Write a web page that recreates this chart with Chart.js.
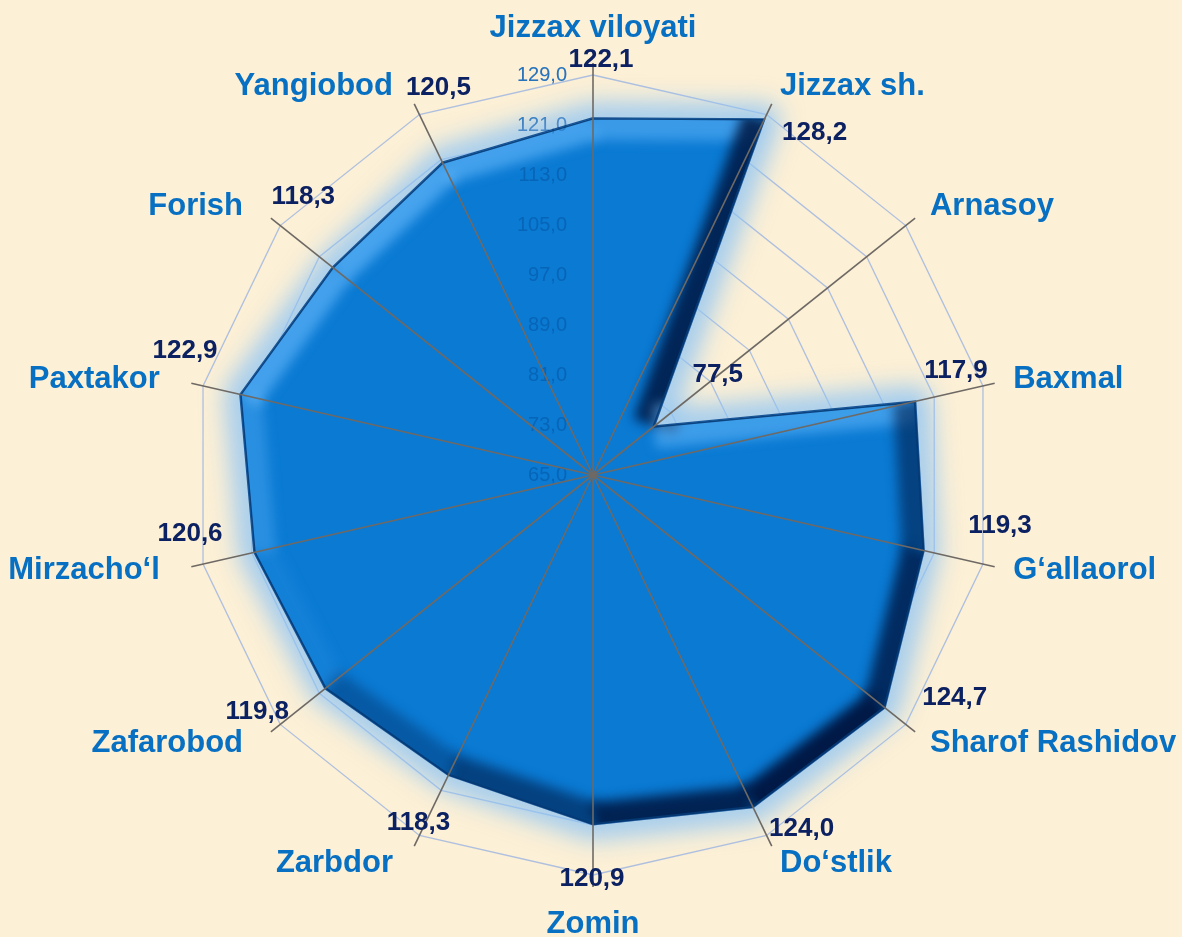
<!DOCTYPE html>
<html lang="uz">
<head>
<meta charset="UTF-8">
<title>Jizzax viloyati</title>
<script src="https://cdn.jsdelivr.net/npm/chart.js"></script>
<style>
  html, body { margin: 0; padding: 0; background: #fcf0d6; }
  .wrap { width: 1182px; height: 937px; position: relative; }
</style>
</head>
<body>
<div class="wrap"><canvas id="radar"></canvas></div>
<script>
// data
const districts = ['Jizzax viloyati', 'Jizzax sh.', 'Arnasoy', 'Baxmal', 'G‘allaorol', 'Sharof Rashidov', 'Do‘stlik',
  'Zomin', 'Zarbdor', 'Zafarobod', 'Mirzacho‘l', 'Paxtakor', 'Forish', 'Yangiobod'];
const values = [122.1, 128.2, 77.5, 117.9, 119.3, 124.7, 124.0, 120.9, 118.3, 119.8, 120.6, 122.9, 118.3, 120.5];
const scaleMin = 65;
const scaleMax = 129;
const scaleStep = 8;

// where each value label sits, nudged from the outer ring corner (layout only)
const valueNudge = [[8, -15], [48, 18], [-188, 149], [-27, -15], [17, -38], [49, -27], [35, -7],
  [-1, 4], [-1, -13], [-23, -13], [-13, -30], [-18, -35], [23, -29], [19, -27]];

const FONT = 'Arial, "Liberation Sans", sans-serif';
const fmt = v => v.toFixed(1).replace('.', ',');

function outline(ctx, pts) {
  ctx.beginPath();
  pts.forEach((p, i) => i ? ctx.lineTo(p.x, p.y) : ctx.moveTo(p.x, p.y));
  ctx.closePath();
}

function drawTicks(ctx, r, color) {
  ctx.save();
  ctx.font = '20px ' + FONT;
  ctx.fillStyle = color;
  ctx.textAlign = 'right';
  ctx.textBaseline = 'middle';
  r.ticks.forEach(t => {
    const y = r.yCenter - r.getDistanceFromCenterForValue(t.value);
    ctx.fillText(fmt(t.value), r.xCenter - 26, y);
  });
  ctx.restore();
}

const decor = {
  id: 'decor',
  beforeDatasetsDraw(chart) {
    const ctx = chart.ctx, r = chart.scales.r;
    const pts = chart.getDatasetMeta(0).data;
    drawTicks(ctx, r, '#3a8ed8');
    // soft halo round the shape
    ctx.save();
    ctx.filter = 'blur(12px)';
    outline(ctx, pts);
    ctx.lineWidth = 30;
    ctx.lineJoin = 'round';
    ctx.strokeStyle = 'rgba(140,195,245,0.85)';
    ctx.stroke();
    ctx.restore();
  },
  afterDatasetsDraw(chart) {
    const ctx = chart.ctx, r = chart.scales.r;
    const pts = chart.getDatasetMeta(0).data;
    const n = pts.length;

    // bevel: light on edges facing up-left, dark on the others
    ctx.save();
    outline(ctx, pts);
    ctx.clip();
    ctx.filter = 'blur(6px)';
    ctx.lineWidth = 44;
    for (let i = 0; i < n; i++) {
      const a = pts[i], b = pts[(i + 1) % n];
      const dx = b.x - a.x, dy = b.y - a.y;
      const len = Math.hypot(dx, dy) || 1;
      const s = (dy / len) * -0.6 + (-dx / len) * -0.8;
      ctx.strokeStyle = s > 0
        ? 'rgba(110,190,255,' + (0.6 * s).toFixed(2) + ')'
        : 'rgba(0,25,70,' + Math.min(1, 1.05 * -s).toFixed(2) + ')';
      ctx.beginPath();
      ctx.moveTo(a.x, a.y);
      ctx.lineTo(b.x, b.y);
      ctx.stroke();
    }
    ctx.filter = 'none';
    outline(ctx, pts);
    ctx.lineWidth = 3;
    ctx.strokeStyle = 'rgba(5,60,120,0.9)';
    ctx.stroke();
    ctx.restore();

    drawTicks(ctx, r, 'rgba(0,45,110,0.28)');

    // spokes over the shape
    ctx.save();
    ctx.strokeStyle = '#6e6964';
    ctx.lineWidth = 1.6;
    for (let i = 0; i < n; i++) {
      const p = r.getPointPosition(i, r.drawingArea + 12);
      ctx.beginPath();
      ctx.moveTo(r.xCenter, r.yCenter);
      ctx.lineTo(p.x, p.y);
      ctx.stroke();
    }
    ctx.fillStyle = '#6e6964';
    ctx.beginPath();
    ctx.arc(r.xCenter, r.yCenter, 3, 0, Math.PI * 2);
    ctx.fill();
    ctx.restore();

    // value labels
    ctx.save();
    ctx.font = 'bold 26px ' + FONT;
    ctx.fillStyle = '#0c2161';
    ctx.textAlign = 'center';
    ctx.textBaseline = 'middle';
    values.forEach((v, i) => {
      const p = r.getPointPosition(i, r.drawingArea);
      ctx.fillText(fmt(v), p.x + valueNudge[i][0], p.y + valueNudge[i][1]);
    });
    ctx.restore();

    // district names
    ctx.save();
    ctx.font = 'bold 31px ' + FONT;
    ctx.fillStyle = '#0870c2';
    districts.forEach((name, i) => {
      const p = r.getPointPosition(i, r.drawingArea + 31);
      let x = p.x, y = p.y;
      const off = p.x - r.xCenter;
      if (Math.abs(off) < 5) {
        ctx.textAlign = 'center';
        if (p.y < r.yCenter) { ctx.textBaseline = 'alphabetic'; y -= 7; }
        else { ctx.textBaseline = 'top'; y += 3; }
      } else if (off > 0) {
        ctx.textAlign = 'left';
        ctx.textBaseline = 'middle';
      } else {
        ctx.textAlign = 'right';
        ctx.textBaseline = 'middle';
        x -= 13;
      }
      ctx.fillText(name, x, y);
    });
    ctx.restore();
  }
};

new Chart(document.getElementById('radar'), {
  type: 'radar',
  data: {
    labels: districts,
    datasets: [{
      data: values,
      backgroundColor: '#0a7ad3',
      borderColor: 'rgba(8,70,140,0.9)',
      borderWidth: 2,
      pointRadius: 0,
      fill: true,
      tension: 0
    }]
  },
  options: {
    responsive: true,
    maintainAspectRatio: false,
    animation: false,
    layout: { padding: { top: 75, bottom: 62, left: 100, right: 96 } },
    plugins: { legend: { display: false }, tooltip: { enabled: false } },
    scales: {
      r: {
        min: scaleMin,
        max: scaleMax,
        ticks: { stepSize: scaleStep, display: false, showLabelBackdrop: false },
        pointLabels: { display: false },
        angleLines: { display: false },
        grid: { color: 'rgba(160,182,225,0.85)', lineWidth: 1.3, circular: false }
      }
    }
  },
  plugins: [decor]
});
</script>
</body>
</html>
